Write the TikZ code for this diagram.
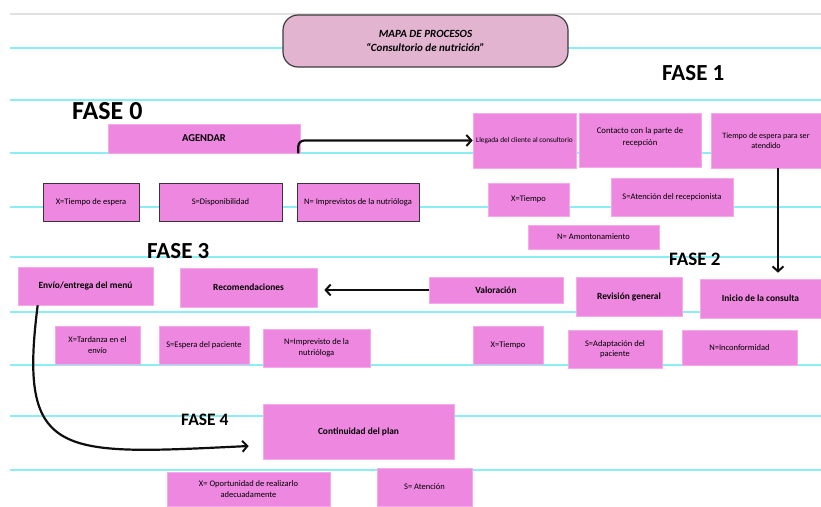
\documentclass[tikz,border=0pt]{standalone}
\usepackage{fontspec}
\setmainfont{Carlito}
\usetikzlibrary{arrows.meta,calc}
\definecolor{boxpink}{RGB}{238,135,224}
\definecolor{boxedge}{RGB}{245,170,236}
\definecolor{titlefill}{RGB}{226,180,208}
\definecolor{rule}{RGB}{140,238,245}
\definecolor{topgray}{RGB}{225,225,225}
\tikzset{
  box/.style={fill=boxpink, draw=boxedge, line width=0.6pt, inner sep=1pt, align=center, text=black,
    font=\fontsize{8.5}{10.5}\selectfont},
  framedbox/.style={box, draw={rgb,255:red,60;green,50;blue,60}, line width=1pt},
  boldbox/.style={box, font=\fontsize{9.4}{11}\bfseries\selectfont},
  phase/.style={anchor=base west, inner sep=0pt, font=\bfseries, text=black},
  ruleline/.style={draw=rule, line width=1.6pt},
  arr/.style={draw={rgb,255:red,15;green,15;blue,15}, line width=2.2pt,
    -{Straight Barb[length=5pt,width=11pt,line width=2pt]}}
}
\begin{document}
\begin{tikzpicture}[x=1pt,y=-1pt]
\useasboundingbox (0,0) rectangle (821,506);
% ruled lines
\draw[draw=topgray, line width=2pt] (10,14) -- (821,14);
\foreach \yy in {48,100,153,207,257,312,365,416,470}
  \draw[ruleline] (10,\yy) -- (821,\yy);
% title
\node[draw={rgb,255:red,60;green,60;blue,60}, line width=1.2pt, fill=titlefill, rounded corners=15pt,
  minimum width=285pt, minimum height=52pt, align=center,
  font=\fontsize{11}{13.5}\bfseries\itshape\selectfont] (title) at (425.5,41)
  {MAPA DE PROCESOS\\“Consultorio de nutrición”};
% phases
\node[phase, font=\fontsize{26}{26}\bfseries\selectfont] (f0) at (72,119) {FASE 0};
\node[phase, font=\fontsize{23}{23}\bfseries\selectfont] (f1) at (662,80) {FASE 1};
\node[phase, font=\fontsize{23}{23}\bfseries\selectfont] (f3) at (147,258) {FASE 3};
\node[phase, font=\fontsize{19}{19}\bfseries\selectfont] (f2) at (669,265) {FASE 2};
\node[phase, font=\fontsize{17.5}{17.5}\bfseries\selectfont] (f4) at (181,425) {FASE 4};
% phase 0
\node[boldbox, font=\fontsize{10.5}{12}\bfseries\selectfont, minimum width=192pt, minimum height=29pt] (agendar) at (204,138.5) {AGENDAR};
\node[framedbox, minimum width=96pt, minimum height=38pt] (x0) at (91,202) {X=Tiempo de espera};
\node[framedbox, minimum width=123pt, minimum height=38pt] (s0) at (220.5,202) {S=Disponibilidad};
\node[framedbox, minimum width=122pt, minimum height=38pt] (n0) at (358,202) {N= Imprevistos de la nutrióloga};
% phase 1
\node[box, font=\fontsize{7.3}{9}\selectfont, minimum width=103pt, minimum height=55pt] (llegada) at (524.5,140.5) {Llegada del cliente al consultorio};
\node[box, font=\fontsize{8.7}{12}\selectfont, minimum width=122pt, minimum height=54pt, text depth=0pt] (contacto) at (640,140) {Contacto con la parte de\\recepción\\[-4pt]};
\node[box, font=\fontsize{8.1}{10.5}\selectfont, minimum width=110pt, minimum height=55pt] (tiempoesp) at (766,140.5) {Tiempo de espera para ser\\atendido};
\node[box, minimum width=81pt, minimum height=33pt] (x1) at (528.5,199.5) {X=Tiempo};
\node[box, minimum width=122pt, minimum height=38pt] (s1) at (672,197) {S=Atención del recepcionista};
\node[box, minimum width=131pt, minimum height=24pt] (n1) at (593.5,237) {N= Amontonamiento};
% phase 2
\node[boldbox, minimum width=134pt, minimum height=26pt] (valor) at (496,290) {Valoración};
\node[boldbox, minimum width=106pt, minimum height=39pt] (revision) at (629,296.5) {Revisión general};
\node[boldbox, minimum width=121pt, minimum height=39pt] (inicio) at (760.5,298.5) {Inicio de la consulta};
\node[box, minimum width=70pt, minimum height=38pt] (x2) at (508,345) {X=Tiempo};
\node[box, minimum width=94pt, minimum height=38pt] (s2) at (615,349) {S=Adaptación del\\paciente};
\node[box, minimum width=115pt, minimum height=35pt] (n2) at (739.5,347.5) {N=Inconformidad};
% phase 3
\node[boldbox, minimum width=135pt, minimum height=38pt] (envio) at (85.5,286) {Envío/entrega del menú};
\node[boldbox, minimum width=137pt, minimum height=39pt] (recom) at (248.5,287.5) {Recomendaciones};
\node[box, minimum width=85pt, minimum height=38pt] (xt) at (97.5,345) {X=Tardanza en el\\envío};
\node[box, minimum width=90pt, minimum height=38pt] (se) at (204,345) {S=Espera del paciente};
\node[box, minimum width=107pt, minimum height=38pt] (ni) at (316.5,348) {N=Imprevisto de la\\nutrióloga};
% phase 4
\node[boldbox, minimum width=191pt, minimum height=55pt] (cont) at (358.5,431.5) {Continuidad del plan};
\node[box, minimum width=163pt, minimum height=34pt] (xo) at (248.5,489) {X= Oportunidad de realizarlo\\adecuadamente};
\node[box, minimum width=95pt, minimum height=38pt] (sa) at (424.5,487) {S= Atención};
% connectors
\draw[arr, rounded corners=6pt] ([xshift=-2pt]agendar.south east) |- (llegada.west);
\coordinate (a1) at ([xshift=12pt]tiempoesp.south);
\draw[arr] (a1) -- ($(inicio.north -| a1)+(0,-6)$);
\draw[arr] (valor.west) -- ($(recom.east |- valor.west)+(7,0)$);
\coordinate (c1) at ([xshift=20pt]envio.south west);
\coordinate (c2) at ($(cont.west)+(-14,14.5)$);
\draw[arr] (c1) .. controls +(-20,155) and +(-188,9) .. (c2);
\end{tikzpicture}
\end{document}
